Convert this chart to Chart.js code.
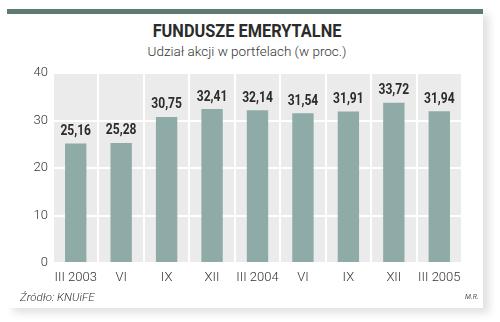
<!DOCTYPE html>
<html>
<head>
<meta charset="utf-8">
<script src="https://cdn.jsdelivr.net/npm/chart.js@4"></script>
<style>
    html, body { margin: 0; padding: 0; background: #fff; }
    body { width: 500px; height: 322px; position: relative; overflow: hidden; font-family: Roboto, sans-serif; }
    .card { position: absolute; left: 7px; top: 9px; width: 476px; height: 299px; background: #fff;
            box-shadow: 6px 5px 8px rgba(0,0,0,0.12); }
    .topbar { position: absolute; left: 7px; top: 9px; width: 476px; height: 5px; background: #5f7b71; }
    .title { position: absolute; left: 0; width: 494px; top: 19px; text-align: center; font-family: Roboto, sans-serif;
             font-weight: bold; font-size: 19px; color: #2b2b2b; transform: scaleX(0.86); transform-origin: 247px 0; }
    .subtitle { position: absolute; left: 0; width: 494px; top: 43px; text-align: center; font-family: Roboto, sans-serif;
                font-weight: 300; font-size: 13.5px; color: #333; }
    .source { position: absolute; left: 20px; top: 290px; font-family: Roboto, sans-serif; font-style: italic; font-weight: 300; font-size: 11.5px; color: #333; }
    .author { position: absolute; left: 465px; top: 293px; font-family: Roboto, sans-serif; font-style: italic; font-size: 7px; color: #555; }
    #wrap { position: absolute; left: 0; top: 0; width: 500px; height: 322px; }
</style>
</head>
<body>
<div class="card"></div>
<div class="topbar"></div>
<div class="title">FUNDUSZE EMERYTALNE</div>
<div class="subtitle">Udział akcji w portfelach (w proc.)</div>
<div id="wrap"><canvas id="chart" width="500" height="322"></canvas></div>
<div class="source">Źródło: KNUiFE</div>
<div class="author">M.R.</div>

<script>
// chart data
const categories = ['III 2003', 'VI', 'IX', 'XII', 'III 2004', 'VI', 'IX', 'XII', 'III 2005'];
const shareValues = [25.16, 25.28, 30.75, 32.41, 32.14, 31.54, 31.91, 33.72, 31.94];
const yTicks = [0, 10, 20, 30, 40];

// gray plot background
const plotBackground = {
    id: 'plotBackground',
    beforeDraw(chart) {
        const { ctx, chartArea } = chart;
        ctx.save();
        ctx.fillStyle = '#ebebeb';
        ctx.fillRect(chartArea.left, chartArea.top, chartArea.right - chartArea.left, chartArea.bottom - chartArea.top);
        ctx.restore();
    }
};

// value labels above bars, comma decimal, slightly condensed
const valueLabels = {
    id: 'valueLabels',
    afterDatasetsDraw(chart) {
        const { ctx } = chart;
        const meta = chart.getDatasetMeta(0);
        meta.data.forEach((bar, i) => {
            ctx.save();
            ctx.translate(bar.x, bar.y - 5);
            ctx.scale(0.86, 1);
            ctx.font = 'bold 14px Roboto, sans-serif';
            ctx.fillStyle = '#2b2b2b';
            ctx.textAlign = 'center';
            ctx.textBaseline = 'bottom';
            ctx.fillText(shareValues[i].toFixed(2).replace('.', ','), 0, 0);
            ctx.restore();
        });
    }
};

new Chart(document.getElementById('chart'), {
    type: 'bar',
    data: {
        labels: categories,
        datasets: [{
            data: shareValues,
            backgroundColor: '#8eaba8',
            barPercentage: 0.47,
            categoryPercentage: 1.0
        }]
    },
    options: {
        responsive: false,
        animation: false,
        layout: { padding: { left: 0, right: 38, top: 73, bottom: 34 } },
        plugins: { legend: { display: false }, tooltip: { enabled: false } },
        scales: {
            x: {
                offset: true,
                grid: { color: '#ffffff', lineWidth: 2, drawTicks: false, offset: true },
                border: { display: false },
                ticks: { padding: 7, color: '#333', minRotation: 0, maxRotation: 0, autoSkip: false,
                         font: { family: 'Roboto', size: 13, weight: 300 } },
                afterFit(scale) { scale.height = 25; }
            },
            y: {
                min: 0,
                max: 40,
                afterBuildTicks(scale) { scale.ticks = yTicks.map(v => ({ value: v })); },
                grid: { color: '#ffffff', lineWidth: 2, drawTicks: false },
                border: { display: false },
                ticks: { padding: 5, color: '#333', font: { family: 'Roboto', size: 13, weight: 300 } },
                afterFit(scale) { scale.width = 53; }
            }
        }
    },
    plugins: [plotBackground, valueLabels]
});
</script>
</body>
</html>
